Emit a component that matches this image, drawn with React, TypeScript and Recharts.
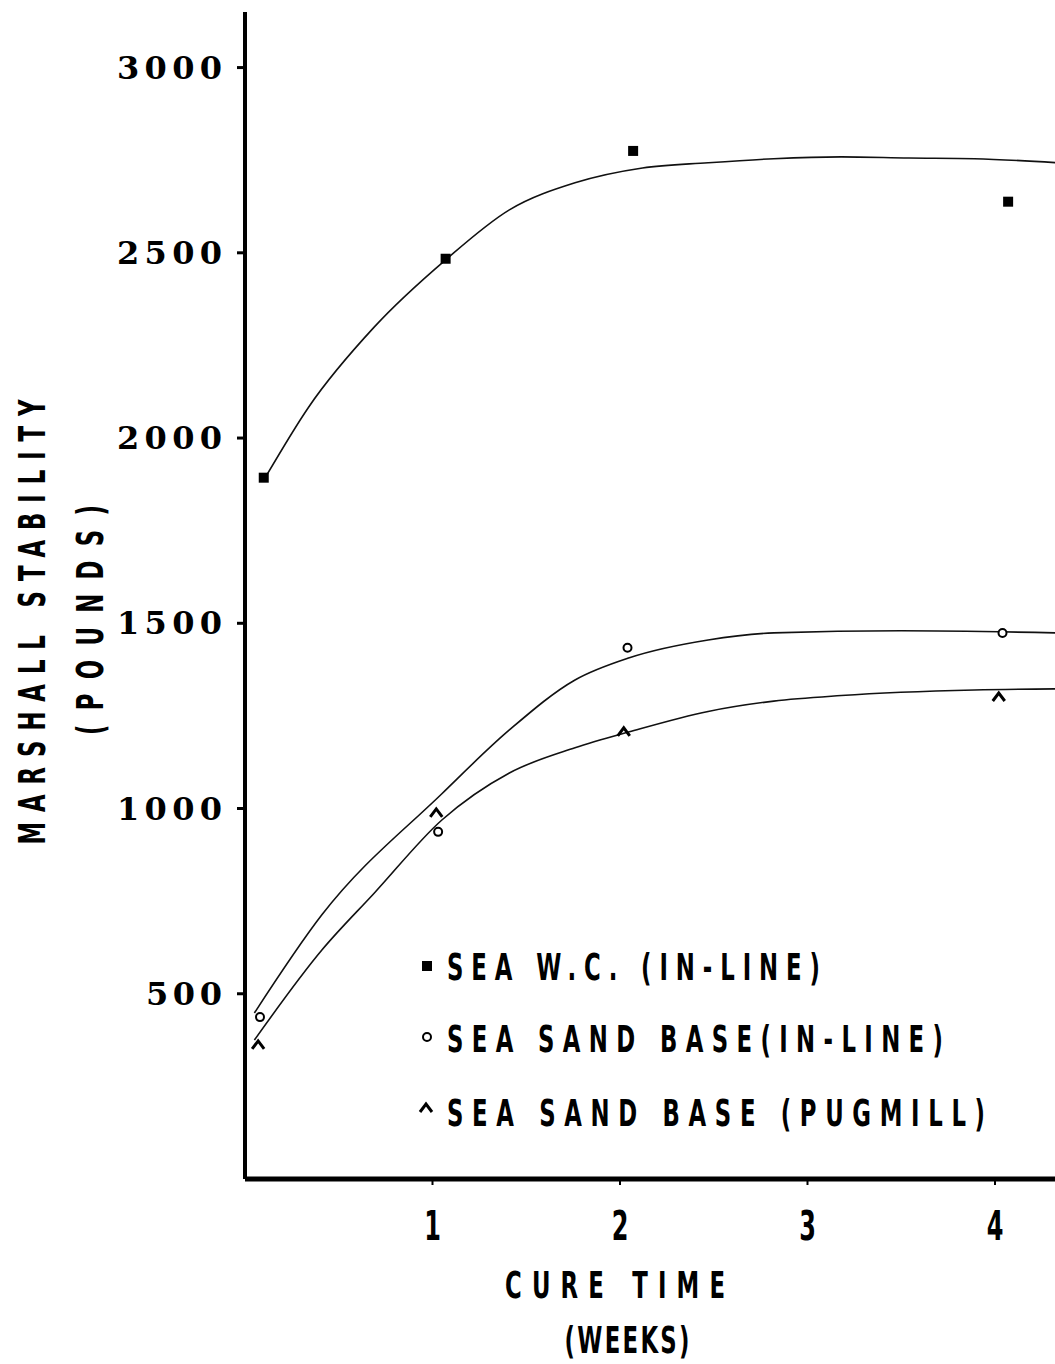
import { ComposedChart, Line, Scatter, XAxis, YAxis } from 'recharts';

// measured points (weeks, pounds)
const wcWeeks = [0.1, 1.07, 2.07, 4.07];
const wcValues = [1893, 2484, 2775, 2638];
const inlineWeeks = [0.08, 1.03, 2.04, 4.04];
const inlineValues = [437, 937, 1434, 1474];
const pugWeeks = [0.07, 1.02, 2.02, 4.02];
const pugValues = [362, 988, 1207, 1301];

// hand-drawn fitted curves
const wcCurveWeeks = [0.11, 0.34, 0.69, 1.07, 1.41, 1.76, 2.12, 2.47, 2.82, 3.18, 3.54, 3.89, 4.33];
const wcCurveValues = [1895, 2084, 2300, 2481, 2616, 2689, 2729, 2743, 2754, 2759, 2756, 2754, 2743];
const inlineCurveWeeks = [0.05, 0.41, 1.05, 1.41, 1.76, 2.05, 2.47, 2.82, 3.5, 4.33];
const inlineCurveValues = [448, 713, 1040, 1212, 1347, 1407, 1455, 1474, 1480, 1474];
const pugCurveWeeks = [0.05, 0.41, 0.69, 1.05, 1.41, 1.76, 2.05, 2.47, 2.82, 3.18, 3.89, 4.33];
const pugCurveValues = [375, 618, 772, 969, 1096, 1164, 1207, 1262, 1290, 1305, 1320, 1323];

const yTicks = [500, 1000, 1500, 2000, 2500, 3000];
const xTicks = [1, 2, 3, 4];

const legendLabels = ['SEA W.C. (IN-LINE)', 'SEA SAND BASE(IN-LINE)', 'SEA SAND BASE (PUGMILL)'];

const pair = (w: number[], v: number[]) => w.map((week, i) => ({ week, stability: v[i] }));

const SX = 0.6; // squeeze DejaVu Sans Bold into the narrow lettering of the original

const Narrow = ({ x, y, w, rot = 0, anchor = 'start', size = 38, children }: any) => (
  <text transform={`translate(${x},${y}) rotate(${rot}) scale(${SX},1)`} textAnchor={anchor}
    fontFamily="'DejaVu Sans', sans-serif" fontWeight="bold" fontSize={size} fill="#000"
    textLength={w ? w / SX : undefined} lengthAdjust="spacing" style={{ whiteSpace: 'pre' }}>
    {children}
  </text>
);

const SquareDot = (p: any) => <rect x={p.cx - 5} y={p.cy - 5} width={10} height={10} fill="#000" />;
const CircleDot = (p: any) => <circle cx={p.cx} cy={p.cy} r={4} fill="#fff" stroke="#000" strokeWidth={2} />;
const CaretDot = (p: any) => (
  <path d={`M${p.cx - 6},${p.cy + 4} L${p.cx},${p.cy - 4} L${p.cx + 6},${p.cy + 4}`} fill="none" stroke="#000" strokeWidth={3} />
);

const YTick = (p: any) => {
  const s = String(p.payload.value);
  return (
    <text x={p.x} y={p.y} dy={11} textAnchor="end" fontFamily="'DejaVu Serif', serif" fontWeight="bold" fontSize={32}
      textLength={s.length * 29 - 11} lengthAdjust="spacing" fill="#000">{s}</text>
  );
};

const XTick = (p: any) => <Narrow x={p.x} y={1240} anchor="middle" size={40}>{p.payload.value}</Narrow>;

export default function App() {
  const legendRows = [
    { y: 980, w: 373, mark: <rect x={422} y={961} width={10} height={10} fill="#000" /> },
    { y: 1052, w: 496, mark: <circle cx={427} cy={1037} r={4} fill="#fff" stroke="#000" strokeWidth={2} /> },
    { y: 1126, w: 538, mark: <path d="M420,1112 L426,1104 L432,1112" fill="none" stroke="#000" strokeWidth={3} /> },
  ];
  return (
    <div style={{ position: 'absolute', left: 0, top: 0, width: 1055, height: 1364, background: '#fff' }}>
      <ComposedChart width={1055} height={1364} margin={{ top: 12, right: 0, bottom: 0, left: 0 }}>
        <XAxis dataKey="week" type="number" domain={[0, 4.32]} allowDataOverflow ticks={xTicks} height={185}
          axisLine={{ stroke: '#000', strokeWidth: 5 }} tickLine={{ stroke: '#000', strokeWidth: 2 }} tickSize={6} tick={<XTick />} />
        <YAxis dataKey="stability" type="number" domain={[0, 3150]} allowDataOverflow ticks={yTicks} width={245}
          axisLine={{ stroke: '#000', strokeWidth: 4 }} tickLine={{ stroke: '#000', strokeWidth: 3 }} tickSize={8} tickMargin={15} tick={<YTick />} />
        <Line data={pair(wcCurveWeeks, wcCurveValues)} dataKey="stability" type="monotone" stroke="#111" strokeWidth={1.6} dot={false} isAnimationActive={false} />
        <Line data={pair(inlineCurveWeeks, inlineCurveValues)} dataKey="stability" type="monotone" stroke="#111" strokeWidth={1.6} dot={false} isAnimationActive={false} />
        <Line data={pair(pugCurveWeeks, pugCurveValues)} dataKey="stability" type="monotone" stroke="#111" strokeWidth={1.6} dot={false} isAnimationActive={false} />
        <Scatter data={pair(wcWeeks, wcValues)} shape={<SquareDot />} isAnimationActive={false} />
        <Scatter data={pair(inlineWeeks, inlineValues)} shape={<CircleDot />} isAnimationActive={false} />
        <Scatter data={pair(pugWeeks, pugValues)} shape={<CaretDot />} isAnimationActive={false} />
      </ComposedChart>
      <svg width={1055} height={1364} style={{ position: 'absolute', left: 0, top: 0, pointerEvents: 'none' }}>
        <Narrow x={45} y={622} rot={-90} anchor="middle" w={445}>MARSHALL STABILITY</Narrow>
        <Narrow x={103} y={620} rot={-90} anchor="middle" w={230}>(POUNDS)</Narrow>
        <Narrow x={615} y={1298} anchor="middle" w={220}>CURE TIME</Narrow>
        <Narrow x={627} y={1353} anchor="middle" w={125}>(WEEKS)</Narrow>
        {legendRows.map((r, i) => (
          <g key={i}>
            {r.mark}
            <Narrow x={447} y={r.y} w={r.w}>{legendLabels[i]}</Narrow>
          </g>
        ))}
      </svg>
    </div>
  );
}
